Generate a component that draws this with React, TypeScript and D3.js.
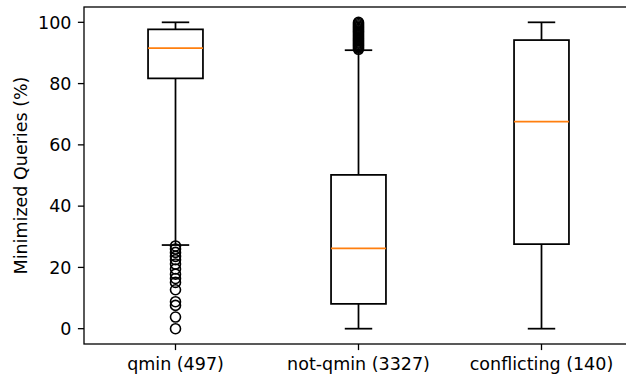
import React, { useRef, useEffect } from "react";
import * as d3 from "d3";

// group names shown under the x axis
const categories = ["qmin (497)", "not-qmin (3327)", "conflicting (140)"];

// box statistics (percent)
const whiskerLow = [27.3, 0, 0];
const quartile1 = [81.7, 8.1, 27.6];
const medians = [91.6, 26.2, 67.6];
const quartile3 = [97.7, 50.2, 94.2];
const whiskerHigh = [100, 90.9, 100];

// outliers per group
const qminOutliers = [0, 3.8, 7.6, 8.8, 12.7, 15.1, 16.4, 17.8, 19.5, 21.1, 22.5, 23.6, 24.9, 26.0, 27.0];
const notQminOutliers = [
  91.2, 91.6, 92.0, 92.4, 92.8, 93.2, 93.6, 94.0, 94.4, 94.8, 95.2, 95.6, 96.0,
  96.4, 96.8, 97.2, 97.6, 98.0, 98.4, 98.8, 99.2, 99.6, 100,
];
const conflictingOutliers: number[] = [];
const outliers = [qminOutliers, notQminOutliers, conflictingOutliers];

const yTicks = [0, 20, 40, 60, 80, 100];

export default function App() {
  const ref = useRef<SVGSVGElement>(null);
  const width = 626;
  const height = 379;
  const margin = { left: 84, top: 7, bottom: 344, right: 633 };
  const fontSize = 17.5;
  const lw = 1.75;

  useEffect(() => {
    const svg = d3.select(ref.current);
    svg.selectAll("*").remove();

    const x = d3.scaleLinear().domain([0.5, 3.5]).range([margin.left, margin.right]);
    const y = d3.scaleLinear().domain([-5, 105]).range([margin.bottom, margin.top]);
    const boxW = x(0.3) - x(0);
    const capW = boxW / 2;

    const g = svg.append("g");

    categories.forEach((c, i) => {
      const cx = x(i + 1);
      const box = g.append("g").attr("fill", "none").attr("stroke", "#000").attr("stroke-width", lw);

      // whiskers
      box.append("line").attr("x1", cx).attr("x2", cx).attr("y1", y(quartile1[i])).attr("y2", y(whiskerLow[i]));
      box.append("line").attr("x1", cx).attr("x2", cx).attr("y1", y(quartile3[i])).attr("y2", y(whiskerHigh[i]));
      // caps
      [whiskerLow[i], whiskerHigh[i]].forEach((v) => {
        box.append("line").attr("x1", cx - capW / 2).attr("x2", cx + capW / 2).attr("y1", y(v)).attr("y2", y(v));
      });
      // box
      box
        .append("rect")
        .attr("x", cx - boxW / 2)
        .attr("y", y(quartile3[i]))
        .attr("width", boxW)
        .attr("height", y(quartile1[i]) - y(quartile3[i]));
      // median
      g.append("line")
        .attr("x1", cx - boxW / 2)
        .attr("x2", cx + boxW / 2)
        .attr("y1", y(medians[i]))
        .attr("y2", y(medians[i]))
        .attr("stroke", "#ff7f0e")
        .attr("stroke-width", lw);
      // fliers
      box
        .selectAll("circle")
        .data(outliers[i])
        .enter()
        .append("circle")
        .attr("cx", cx)
        .attr("cy", (d) => y(d))
        .attr("r", 5)
        .attr("stroke-width", 1.6);
    });

    // spines
    const spines = svg.append("g").attr("stroke", "#000").attr("stroke-width", 1.3).attr("fill", "none");
    spines.append("rect")
      .attr("x", margin.left)
      .attr("y", margin.top)
      .attr("width", margin.right - margin.left)
      .attr("height", margin.bottom - margin.top);

    // y axis
    const yAxis = svg.append("g").attr("font-family", "DejaVu Sans").attr("font-size", fontSize);
    yTicks.forEach((t) => {
      yAxis.append("line")
        .attr("x1", margin.left - 6.1)
        .attr("x2", margin.left)
        .attr("y1", y(t))
        .attr("y2", y(t))
        .attr("stroke", "#000")
        .attr("stroke-width", 1.3);
      yAxis.append("text")
        .attr("x", margin.left - 12.5)
        .attr("y", y(t))
        .attr("dy", "0.36em")
        .attr("text-anchor", "end")
        .text(t);
    });

    // x axis
    const xAxis = svg.append("g").attr("font-family", "DejaVu Sans").attr("font-size", fontSize);
    categories.forEach((c, i) => {
      xAxis.append("line")
        .attr("x1", x(i + 1))
        .attr("x2", x(i + 1))
        .attr("y1", margin.bottom)
        .attr("y2", margin.bottom + 6.1)
        .attr("stroke", "#000")
        .attr("stroke-width", 1.3);
      xAxis.append("text")
        .attr("x", x(i + 1))
        .attr("y", margin.bottom + 12.5)
        .attr("dy", "0.76em")
        .attr("text-anchor", "middle")
        .text(c);
    });

    svg.append("text")
      .attr("transform", `translate(27,${(margin.top + margin.bottom) / 2}) rotate(-90)`)
      .attr("text-anchor", "middle")
      .attr("font-family", "DejaVu Sans")
      .attr("font-size", fontSize)
      .text("Minimized Queries (%)");
  }, []);

  return (
    <svg
      ref={ref}
      width={width}
      height={height}
      style={{ position: "absolute", left: 0, top: 0, background: "#fff" }}
    />
  );
}
